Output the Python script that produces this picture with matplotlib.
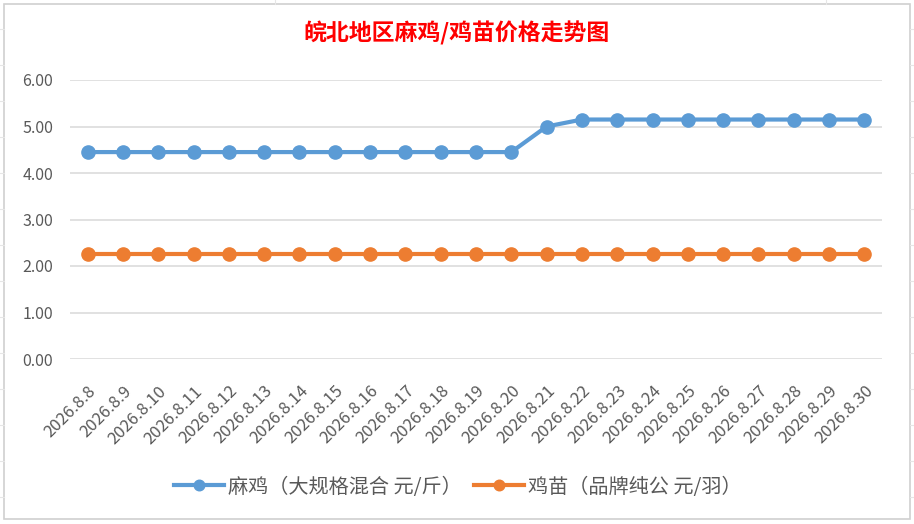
import matplotlib
matplotlib.use("Agg")
import matplotlib.pyplot as plt
from matplotlib.patches import Rectangle

plt.rcParams['font.family'] = ['Noto Sans CJK SC', 'DejaVu Sans']

dates = ["2026.8.%d" % d for d in range(8, 31)]
maji = [4.45]*13 + [5.00] + [5.15]*9
jimiao = [2.25]*23
yticks = [0, 1, 2, 3, 4, 5, 6]
title = "皖北地区麻鸡/鸡苗价格走势图"
label_maji = "麻鸡（大规格混合 元/斤）"
label_jimiao = "鸡苗（品牌纯公 元/羽）"

W, H = 914, 524
fig = plt.figure(figsize=(W/100, H/100), dpi=100)
fig.patch.set_facecolor("white")

# faint spreadsheet cells outside the chart
for yy in [29, 65, 101, 137, 173, 209, 245, 281, 317, 353, 389, 425, 461, 497]:
    fig.add_artist(plt.Line2D([0, 4/W], [1-yy/H, 1-yy/H], color="#e6e6e6", lw=0.8))
    fig.add_artist(plt.Line2D([910/W, 1], [1-yy/H, 1-yy/H], color="#e6e6e6", lw=0.8))
for xx in [275, 826]:
    fig.add_artist(plt.Line2D([xx/W, xx/W], [1-4/H, 1], color="#e6e6e6", lw=0.8))
fig.add_artist(Rectangle((4/W, 1-519/H), 906/W, 515/H, transform=fig.transFigure,
                         fill=False, edgecolor="#d0d0d0", lw=1.2))

ax = fig.add_axes([70/W, 1-359/H, 812/W, 279/H])
x = list(range(len(dates)))
ax.plot(x, maji, color="#5b9bd5", lw=3, marker="o", ms=9.5, clip_on=False, zorder=3, label=label_maji)
ax.plot(x, jimiao, color="#ed7d31", lw=3, marker="o", ms=9.5, clip_on=False, zorder=3, label=label_jimiao)
ax.set_xlim(-0.5, len(dates)-0.5)
ax.set_ylim(0, 6)
ax.set_yticks(yticks)
ax.set_yticklabels(["%.2f" % v for v in yticks])
ax.set_xticks(x)
ax.set_xticklabels(dates, rotation=45, ha="right", va="top", rotation_mode="anchor")
ax.grid(axis="y", color="#d9d9d9", lw=1.1)
ax.set_axisbelow(True)
for s in ax.spines.values():
    s.set_visible(False)
ax.tick_params(axis="y", length=0, pad=12, labelsize=11.5, labelcolor="#595959")
ax.tick_params(axis="x", length=0, pad=17, labelsize=12, labelcolor="#595959")

fig.text(457/W, 1-33/H, title, color="#ff0000", fontsize=16.5, fontweight="bold", ha="center", va="center")

leg = fig.legend(loc="center", bbox_to_anchor=(458/W, 1-487/H), ncol=2, frameon=False,
                 fontsize=14.5, handlelength=2.5, columnspacing=0.6, handletextpad=0.2,
                 markerscale=0.8)
for t in leg.get_texts():
    t.set_color("#595959")

fig.savefig("out.png", dpi=100, facecolor="white")
